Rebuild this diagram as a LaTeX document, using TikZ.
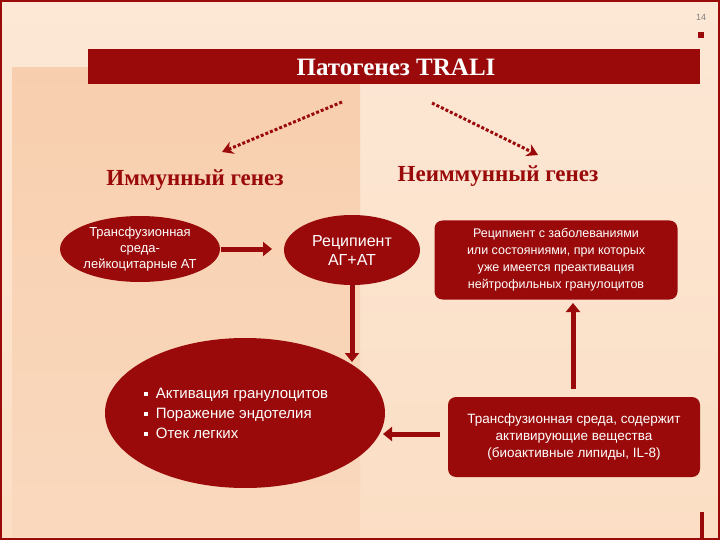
\documentclass[tikz,border=0pt]{standalone}
\usepackage{fontspec}
\setmainfont{Liberation Serif}
\setsansfont{Liberation Sans}
\usetikzlibrary{arrows.meta,shapes.geometric}
\definecolor{dred}{HTML}{9B0A0A}
\definecolor{peach}{HTML}{FBDEC4}
\definecolor{peachL}{HTML}{F8CFAE}
\newcommand{\fs}[2]{\fontsize{#1}{#2}\selectfont}
\tikzset{
 blob/.style={ellipse,fill=dred,text=white,align=center,inner sep=0pt},
 rbox/.style={rectangle,rounded corners=8pt,fill=dred,text=white,align=center,inner sep=0pt},
 fat/.style={line width=5pt,draw=dred,-{Triangle[length=9pt,width=14pt]}},
 dots/.style={line width=3pt,draw=dred,dotted,-{Stealth[length=11pt,width=13pt]}},
 head/.style={font=\bfseries\fontsize{23}{26}\selectfont,text=dred}
}
\begin{document}
\begin{tikzpicture}[x=1pt,y=-1pt]
\useasboundingbox (0,0) rectangle (720,540);
\fill[top color=peach!70!white,bottom color=peach] (0,0) rectangle (720,540);
\fill[top color=peachL,bottom color=peachL!80!white] (12,68) rectangle (360,536);
\draw[dred,line width=2pt] (1,1) rectangle (719,539);
\node[rectangle,fill=dred,minimum width=612pt,minimum height=35pt,anchor=north west,inner sep=0pt] (title) at (88,49) {};
\node[text=white,font=\bfseries\fontsize{25}{28}\selectfont] (tt) at (396,67) {Патогенез TRALI};
\node[font=\sffamily\fontsize{9}{10}\selectfont,text=gray] (pg) at (701,17) {14};
\fill[dred] (698,32) rectangle (704,38);
\fill[dred] (700,512) rectangle (704,538);
\coordinate (a1) at (342,102);
\coordinate (a2) at (432,103);
\node[head] (imm) at (195,180) {Иммунный генез};
\node[head] (nimm) at (498,176) {Неиммунный генез};
\draw[dots] (a1) -- (222,152);
\draw[dots] (a2) -- (538,155);
\node[blob,minimum width=156pt,minimum height=66pt,font=\sffamily\fs{13}{16}] (e1) at (140,249) {Трансфузионная\\среда-\\лейкоцитарные АТ};
\node[blob,minimum width=136pt,minimum height=70pt,font=\sffamily\fs{16}{19}] (e2) at (352,250) {Реципиент\\АГ+АТ};
\node[rbox,minimum width=243pt,minimum height=79pt,font=\sffamily\fs{12.5}{17}] (r1) at (556,260) {Реципиент с заболеваниями\\или состояниями, при которых\\уже имеется преактивация\\нейтрофильных гранулоцитов};
\node[blob,minimum width=280pt,minimum height=150pt] (e3) at (245,413) {};
\node[text=white,font=\sffamily\fs{15}{20},align=left,anchor=north west] (lst) at (140,385) {\rule[3pt]{4pt}{4pt}\ \ Активация гранулоцитов\\\rule[3pt]{4pt}{4pt}\ \ Поражение эндотелия\\\rule[3pt]{4pt}{4pt}\ \ Отек легких};
\node[rbox,minimum width=252pt,minimum height=80pt,font=\sffamily\fs{13.5}{17}] (r2) at (574,437) {Трансфузионная среда, содержит\\активирующие вещества\\(биоактивные липиды, IL-8)};
\draw[fat] (221,249) -- (272,249);
\draw[fat] ([yshift=4pt]e2.south) -- (352,362);
\draw[fat] (573,389) -- (573,303);
\draw[fat] (440,434) -- (383,434);
\end{tikzpicture}
\end{document}
